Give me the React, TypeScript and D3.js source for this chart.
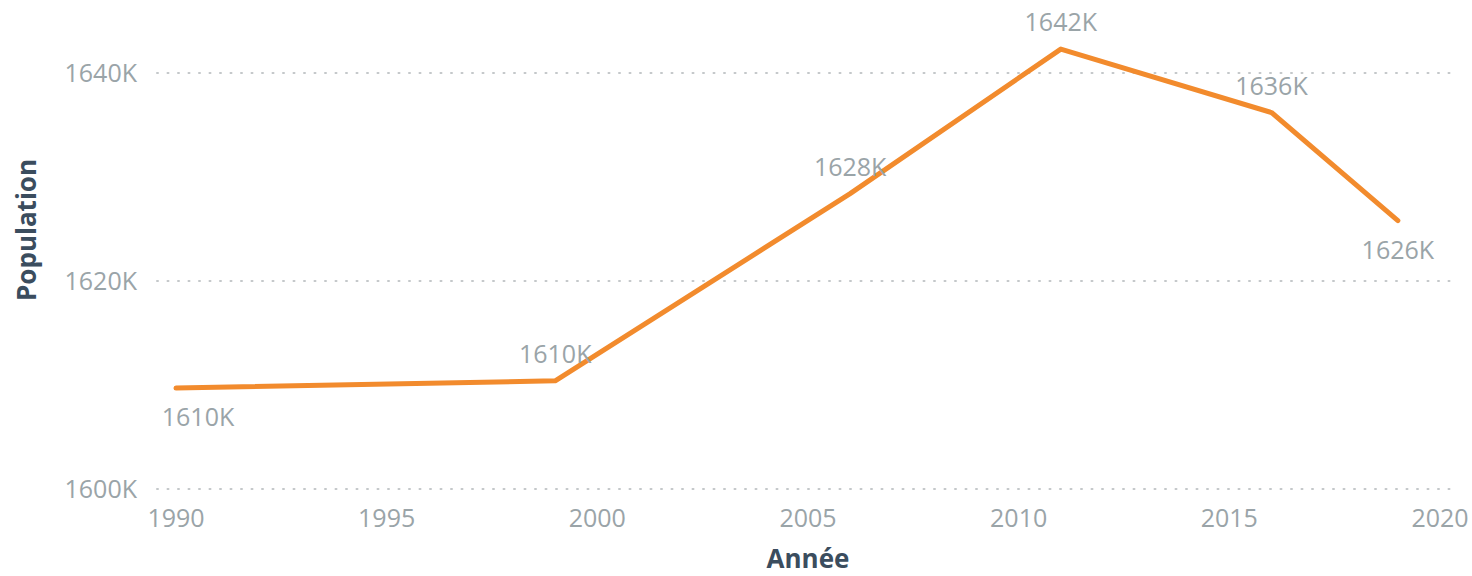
import { scaleLinear, line } from 'd3'

const years = [1990, 1999, 2006, 2011, 2016, 2019]
const population = [1609.7, 1610.4, 1628.4, 1642.3, 1636.2, 1625.8]
const labelPlacement = ['below', 'above', 'above', 'above', 'above', 'below']
const yTicks = [1600, 1620, 1640]
const xTicks = [1990, 1995, 2000, 2005, 2010, 2015, 2020]

const App = () => {
  const width = 1472
  const height = 576
  const font = '"Open Sans", "Noto Sans", sans-serif'

  const x = scaleLinear().domain([1990, 2020]).range([176, 1440])
  const y = scaleLinear().domain([1600, 1640]).range([489, 73])

  const pts = years.map((yr, i) => ({ yr, v: population[i], pos: labelPlacement[i] }))
  const path = line<{ yr: number; v: number }>()
    .x(d => x(d.yr))
    .y(d => y(d.v))(pts)

  return (
    <svg width={width} height={height} style={{ position: 'absolute', left: 0, top: 0, background: '#fff' }}>
      {/* dotted gridlines */}
      {yTicks.map(t => (
        <line key={t} x1={157} x2={1455} y1={y(t)} y2={y(t)}
          stroke="#c4c8ca" strokeWidth={2} strokeDasharray="1 9.5" strokeLinecap="round" />
      ))}
      {yTicks.map(t => (
        <text key={'yl' + t} x={137} y={y(t)} dy="0.36em" textAnchor="end"
          fontFamily={font} fontSize={25} fill="#9aa4a8">{t}K</text>
      ))}
      {xTicks.map(t => (
        <text key={'xl' + t} x={x(t)} y={527} textAnchor="middle"
          fontFamily={font} fontSize={25} fill="#9aa4a8">{t}</text>
      ))}
      <text x={808} y={568} textAnchor="middle" fontFamily={font} fontSize={26}
        fontWeight="bold" fill="#3b4d5e">Année</text>
      <text transform="translate(36,230) rotate(-90)" textAnchor="middle" fontFamily={font}
        fontSize={26} fontWeight="bold" fill="#3b4d5e">Population</text>

      <path d={path ?? ''} fill="none" stroke="#f28b2d" strokeWidth={5}
        strokeLinejoin="round" strokeLinecap="round" />

      {pts.map((d, i) => {
        const px = x(d.yr) + (i === 0 ? 22 : 0)
        const py = d.pos === 'above' ? y(d.v) - 18 : y(d.v) + 38
        return (
          <text key={'dl' + d.yr} x={px} y={py} textAnchor="middle"
            fontFamily={font} fontSize={25} fill="#9aa4a8">{Math.round(d.v)}K</text>
        )
      })}
    </svg>
  )
}

export default App
